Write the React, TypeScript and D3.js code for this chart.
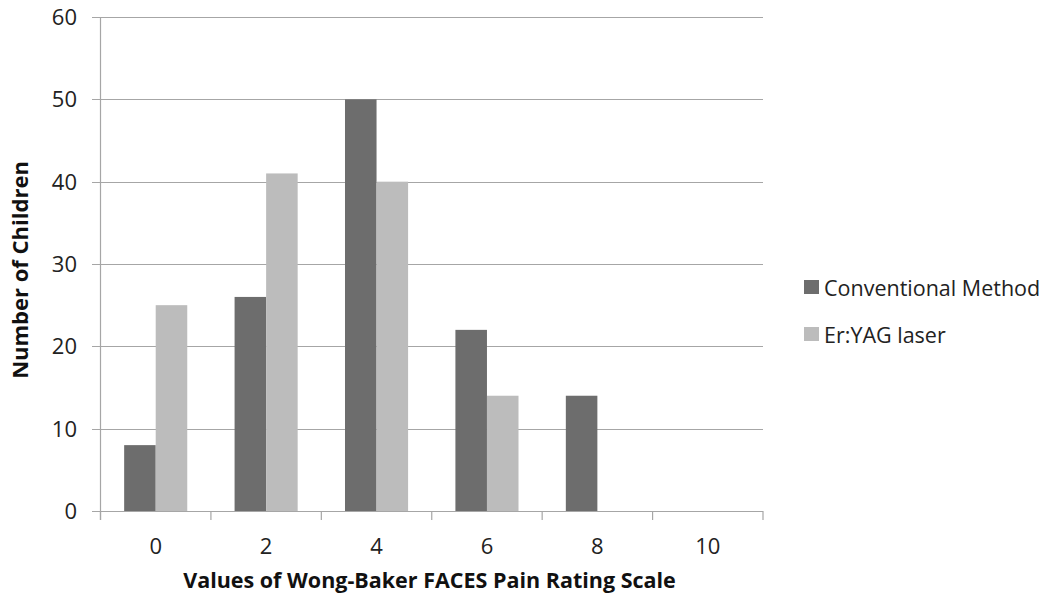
import * as d3 from "d3";

const categories = ["0", "2", "4", "6", "8", "10"];
const seriesNames = ["Conventional Method", "Er:YAG laser"];
const conventional = [8, 26, 50, 22, 14, 0];
const erYag = [25, 41, 40, 14, 0, 0];
const yTicks = [0, 10, 20, 30, 40, 50, 60];
const colors = ["#6d6d6d", "#bcbcbc"];

const W = 1058;
const H = 599;
const left = 100.5;
const right = 763;
const top = 17;
const bottom = 511;
const font = "'Open Sans', sans-serif";

export default function App() {
  const y = d3.scaleLinear().domain([0, 60]).range([bottom, top]);
  const x = d3.scaleBand().domain(categories).range([left, right]);
  const inner = d3
    .scaleBand()
    .domain(seriesNames)
    .range([0, x.bandwidth()])
    .paddingOuter(0.75);
  const values = [conventional, erYag];

  return (
    <svg
      width={W}
      height={H}
      style={{ position: "absolute", left: 0, top: 0, background: "#fff" }}
    >
      {/* grid lines + axes */}
      <g stroke="#a6a6a6" strokeWidth={1.2}>
        {yTicks.map((t) => (
          <line key={t} x1={92} x2={right} y1={Math.round(y(t)) + 0.5} y2={Math.round(y(t)) + 0.5} />
        ))}
        <line x1={left} x2={left} y1={top} y2={bottom + 9} />
        {categories.map((c) => (
          <line key={c} x1={x(c)!} x2={x(c)!} y1={bottom} y2={bottom + 9} />
        ))}
        <line x1={right} x2={right} y1={bottom} y2={bottom + 9} />
      </g>
      {/* y tick labels */}
      <g fontFamily={font} fontSize={22} fill="#222" textAnchor="end">
        {yTicks.map((t) => (
          <text key={t} x={77} y={y(t)} dy="0.36em">
            {t}
          </text>
        ))}
      </g>
      {/* bars */}
      {values.map((vals, s) => (
        <g key={s} fill={colors[s]}>
          {vals.map((v, i) =>
            v > 0 ? (
              <rect
                key={i}
                x={x(categories[i])! + inner(seriesNames[s])!}
                width={inner.bandwidth()}
                y={y(v)}
                height={y(0) - y(v)}
              />
            ) : null
          )}
        </g>
      ))}
      {/* x tick labels */}
      <g fontFamily={font} fontSize={22} fill="#222" textAnchor="middle">
        {categories.map((c) => (
          <text key={c} x={x(c)! + x.bandwidth() / 2} y={554}>
            {c}
          </text>
        ))}
      </g>
      {/* axis titles */}
      <text
        x={(181 + 678) / 2}
        y={588}
        textAnchor="middle"
        fontFamily={font}
        fontWeight="bold"
        fontSize={21.5}
        fill="#111"
      >
        Values of Wong-Baker FACES Pain Rating Scale
      </text>
      <text
        transform={`translate(28,270) rotate(-90)`}
        textAnchor="middle"
        fontFamily={font}
        fontWeight="bold"
        fontSize={22}
        fill="#111"
      >
        Number of Children
      </text>
      {/* legend */}
      {seriesNames.map((n, i) => (
        <g key={n} transform={`translate(804,${280 + i * 47})`}>
          <rect width={15} height={14} fill={colors[i]} />
          <text x={20} y={15.5} fontFamily={font} fontSize={21.5} fill="#222">
            {n}
          </text>
        </g>
      ))}
    </svg>
  );
}
